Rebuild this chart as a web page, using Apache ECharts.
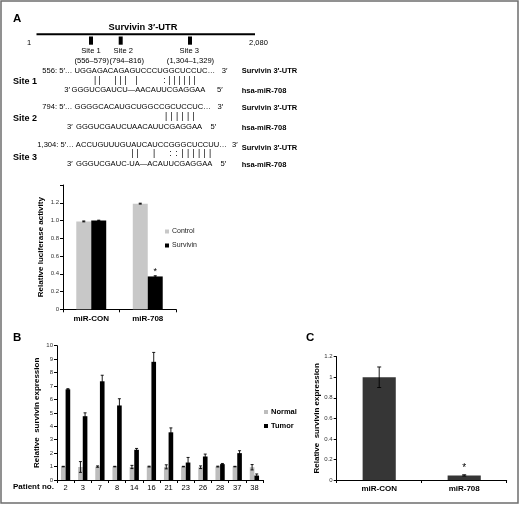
<!DOCTYPE html>
<html>
<head>
<meta charset="utf-8">
<script src="https://cdn.jsdelivr.net/npm/echarts@6/dist/echarts.min.js"></script>
<style>
html,body{margin:0;padding:0;background:#fff;}
#main{width:520px;height:506px;}
</style>
</head>
<body>
<div id="main"></div>
<script>
// ---------- data ----------
const utrLength = ['1', '2,080'];
const utrSites = ['Site 1', 'Site 2', 'Site 3'];
const utrRanges = ['(556–579)', '(794–816)', '(1,304–1,329)'];
const siteTop = ['556: 5′… UGGAGACAGAGUCCCUGGCUCCUC…', '794: 5′… GGGGCACAUGCUGGCCGCUCCUC…', '1,304: 5′… ACCUGUUUGUAUCAUCCGGGCUCCUU…'];
const siteBottom = ['GGGUCGAUCU—AACAUUCGAGGAA', 'GGGUCGAUCUAACAUUCGAGGAA', 'GGGUCGAUC-UA—ACAUUCGAGGAA'];
const sitePairs = ['||  |||  |  :||||||', '||||||', '||  |  ::||||||'];

const lucCategories = ['miR-CON', 'miR-708'];
const lucControl = [0.99, 1.19];
const lucControlErr = [0.005, 0.005];
const lucSurvivin = [1.0, 0.37];
const lucSurvivinErr = [0.004, 0.008];
const lucSig = ['', '*'];
const lucTicks = [0, 0.2, 0.4, 0.6, 0.8, 1.0, 1.2, 1.4];

const patients = ['2', '3', '7', '8', '14', '16', '21', '23', '26', '28', '37', '38'];
const normal = [1, 0.97, 1, 1, 0.97, 1, 0.98, 1, 0.95, 1, 1, 0.95];
const normalErr = [0.02, 0.4, 0.05, 0.02, 0.12, 0.03, 0.15, 0.02, 0.1, 0.03, 0.02, 0.2];
const tumor = [6.75, 4.75, 7.35, 5.55, 2.25, 8.8, 3.55, 1.3, 1.75, 1.18, 2.0, 0.33];
const tumorErr = [0.05, 0.25, 0.45, 0.5, 0.1, 0.7, 0.33, 0.38, 0.18, 0.05, 0.18, 0.12];

const cCategories = ['miR-CON', 'miR-708'];
const cValues = [1.0, 0.045];
const cErr = [0.1, 0.006];
const cSig = ['', '*'];

// ---------- layout / style ----------
const FONT = '"Liberation Sans", Arial, Helvetica, sans-serif';
const chart = echarts.init(document.getElementById('main'), null, {renderer: 'canvas'});

function txt(x, y, text, size, bold, align, extra) {
  return Object.assign({
    type: 'text', x: x, y: y, silent: true,
    style: {
      text: text,
      font: (bold ? 'bold ' : '') + size + 'px ' + FONT,
      fill: '#000',
      textAlign: align || 'left',
      textVerticalAlign: 'middle'
    }
  }, extra || {});
}

const graphics = [];
// frame
graphics.push({type: 'rect', shape: {x: 1, y: 1, width: 517, height: 502}, style: {fill: 'none', stroke: '#6e6e6e', lineWidth: 1.5}, silent: true});
// panel letters
graphics.push(txt(13, 19, 'A', 11.5, true));
graphics.push(txt(13, 338, 'B', 11.5, true));
graphics.push(txt(306, 338, 'C', 11.5, true));
// UTR schematic
graphics.push(txt(143, 27, 'Survivin 3′-UTR', 9.3, true, 'center'));
graphics.push({type: 'line', shape: {x1: 36.5, y1: 34.3, x2: 255, y2: 34.3}, style: {stroke: '#000', lineWidth: 2}, silent: true});
graphics.push(txt(29, 42.5, utrLength[0], 7.5, false, 'center'));
graphics.push(txt(258.5, 42.5, utrLength[1], 7.5, false, 'center'));
const siteMarkX = [91, 120.7, 190];
const siteLabelX = [91, 123.3, 189.3];
const siteRangeX = [91.7, 126.7, 190.5];
for (let i = 0; i < 3; i++) {
  graphics.push({type: 'rect', shape: {x: siteMarkX[i] - 2, y: 36.5, width: 4, height: 8.2}, style: {fill: '#000'}, silent: true});
  graphics.push(txt(siteLabelX[i], 50.7, utrSites[i], 7.6, false, 'center'));
  graphics.push(txt(siteRangeX[i], 60.7, utrRanges[i], 7.6, false, 'center'));
}
// sequence alignments
const rowTopY = [71, 107, 144.5];
const rowPairY = [80.5, 116.8, 153.8];
const rowBotY = [90, 126.5, 163.5];
const siteLblY = [81.5, 119, 157.5];
const utrLblY = [71, 107.5, 147.5];
const mirLblY = [91, 128, 165];
const topX = [42.3, 42.3, 37.3];
const top3X = [221.7, 217.5, 232];
const bot3X = [64.3, 67, 67];
const botSeqX = [71.5, 76, 76];
const bot5X = [217, 210.5, 220.5];
const pairX = [
  [95, 99.5, 115.5, 120.5, 125.5, 136.5, 164.5, 169.5, 174.5, 179.5, 184.5, 189.5, 194.5],
  [166, 171.5, 177, 182.5, 188, 193.5],
  [132.7, 137.5, 154, 170.5, 176.5, 182.5, 188, 193.5, 199, 204.5, 210]
];
const SEQ = 7.6;
for (let i = 0; i < 3; i++) {
  graphics.push(txt(13, siteLblY[i], utrSites[i], 9, true));
  graphics.push(txt(topX[i], rowTopY[i], siteTop[i], SEQ, false));
  graphics.push(txt(top3X[i], rowTopY[i], '3′', SEQ, false));
  graphics.push(txt(241.7, utrLblY[i], 'Survivin 3′-UTR', 7.5, true));
  const marks = sitePairs[i].replace(/ /g, '');
  for (let k = 0; k < marks.length; k++) {
    graphics.push(txt(pairX[i][k], rowPairY[i], marks[k], 8.5, false, 'center'));
  }
  graphics.push(txt(bot3X[i], rowBotY[i], '3′', SEQ, false));
  graphics.push(txt(botSeqX[i], rowBotY[i], siteBottom[i], SEQ, false));
  graphics.push(txt(bot5X[i], rowBotY[i], '5′', SEQ, false));
  graphics.push(txt(241.7, mirLblY[i], 'hsa-miR-708', 7.5, true));
}
graphics.push(txt(13, 487, 'Patient no.', 8, true));

// error bar renderer
function errRenderer(sign, pct, cap) {
  return function (params, api) {
    const x = api.value(0), v = api.value(1), e = api.value(2);
    const band = api.size([1, 0])[0];
    const dx = sign * band * pct / 2;
    const hi = api.coord([x, v + e]);
    const lo = api.coord([x, Math.max(0, v - e)]);
    const cx = hi[0] + dx;
    const st = {stroke: '#000', lineWidth: 0.9};
    return {
      type: 'group',
      children: [
        {type: 'line', shape: {x1: cx, y1: hi[1], x2: cx, y2: lo[1]}, style: st},
        {type: 'line', shape: {x1: cx - cap, y1: hi[1], x2: cx + cap, y2: hi[1]}, style: st},
        {type: 'line', shape: {x1: cx - cap, y1: lo[1], x2: cx + cap, y2: lo[1]}, style: st}
      ]
    };
  };
}
function errData(vals, errs) { return vals.map((v, i) => [i, v, errs[i]]); }
function sigData(vals, sig, size, dist) {
  return vals.map((v, i) => sig[i] ? {value: v, label: {show: true, position: 'top', distance: dist, formatter: sig[i], fontSize: size, color: '#000', fontFamily: FONT}} : v);
}

const axisLineBlack = {show: true, lineStyle: {color: '#000', width: 1}};
function yAxisCfg(idx, min, max, interval, fmt, name, nameGap) {
  return {
    type: 'value', gridIndex: idx, min: min, max: max, interval: interval,
    axisLine: axisLineBlack,
    axisTick: {show: true, length: 3, inside: false, lineStyle: {color: '#000', width: 1}},
    splitLine: {show: false},
    axisLabel: {fontSize: 6, color: '#333', fontFamily: FONT, margin: 4, formatter: fmt},
    name: name, nameLocation: 'middle', nameRotate: 90, nameGap: nameGap,
    nameTextStyle: {fontSize: 8, fontWeight: 'bold', color: '#000', fontFamily: FONT}
  };
}
function xAxisCfg(idx, data, size, bold, margin) {
  return {
    type: 'category', gridIndex: idx, data: data,
    axisLine: axisLineBlack,
    axisTick: {show: true, length: 3, alignWithLabel: false, lineStyle: {color: '#000', width: 1}},
    axisLabel: {fontSize: size, fontWeight: bold ? 'bold' : 'normal', color: '#000', fontFamily: FONT, margin: margin, interval: 0},
    splitLine: {show: false}
  };
}

const option = {
  animation: false,
  backgroundColor: '#fff',
  textStyle: {fontFamily: FONT},
  grid: [
    {left: 63, top: 185, width: 113, height: 124.3},
    {left: 57, top: 345.7, width: 206, height: 134.3},
    {left: 336.7, top: 356.7, width: 170, height: 123.3}
  ],
  xAxis: [
    xAxisCfg(0, lucCategories, 8, true, 5),
    xAxisCfg(1, patients, 7.5, false, 4),
    xAxisCfg(2, cCategories, 8, true, 5)
  ],
  yAxis: [
    yAxisCfg(0, 0, 1.4, 0.2, v => (Math.abs(v - 1.4) < 1e-6 ? '' : (v === 0 ? '0' : v.toFixed(1))), 'Relative luciferase activity', 18),
    yAxisCfg(1, 0, 10, 1, v => String(v), 'Relative  survivin expression', 16),
    yAxisCfg(2, 0, 1.2, 0.2, v => String(Math.round(v * 10) / 10), 'Relative  survivin expression', 13)
  ],
  legend: [
    {data: ['Control', 'Survivin'], orient: 'vertical', left: 165, top: 228, itemWidth: 4, itemHeight: 4, itemGap: 7, padding: 0,
      icon: 'rect', textStyle: {fontSize: 7, color: '#222', fontFamily: FONT, padding: [0, 0, 0, -2]}},
    {data: ['Normal', 'Tumor'], orient: 'vertical', left: 264, top: 408, itemWidth: 4, itemHeight: 4, itemGap: 6, padding: 0,
      icon: 'rect', textStyle: {fontSize: 7.5, fontWeight: 'bold', color: '#000', fontFamily: FONT, padding: [0, 0, 0, -2]}}
  ],
  series: [
    {name: 'Control', type: 'bar', xAxisIndex: 0, yAxisIndex: 0, data: lucControl, barWidth: '26.5%', barGap: '0%', itemStyle: {color: '#c8c8c8'}},
    {name: 'Survivin', type: 'bar', xAxisIndex: 0, yAxisIndex: 0, data: sigData(lucSurvivin, lucSig, 9, 0), barWidth: '26.5%', barGap: '0%', itemStyle: {color: '#000'}},
    {name: 'ctrlErr', type: 'custom', xAxisIndex: 0, yAxisIndex: 0, data: errData(lucControl, lucControlErr), encode: {x: 0, y: 1}, renderItem: errRenderer(-1, 0.265, 1.5), z: 5},
    {name: 'survErr', type: 'custom', xAxisIndex: 0, yAxisIndex: 0, data: errData(lucSurvivin, lucSurvivinErr), encode: {x: 0, y: 1}, renderItem: errRenderer(1, 0.265, 1.5), z: 5},

    {name: 'Normal', type: 'bar', xAxisIndex: 1, yAxisIndex: 1, data: normal, barWidth: '27%', barGap: '0%', itemStyle: {color: '#bdbdbd'}},
    {name: 'Tumor', type: 'bar', xAxisIndex: 1, yAxisIndex: 1, data: tumor, barWidth: '27%', barGap: '0%', itemStyle: {color: '#000'}},
    {name: 'normErr', type: 'custom', xAxisIndex: 1, yAxisIndex: 1, data: errData(normal, normalErr), encode: {x: 0, y: 1}, renderItem: errRenderer(-1, 0.27, 1.5), z: 5},
    {name: 'tumErr', type: 'custom', xAxisIndex: 1, yAxisIndex: 1, data: errData(tumor, tumorErr), encode: {x: 0, y: 1}, renderItem: errRenderer(1, 0.27, 1.5), z: 5},

    {name: 'Survivin expression', type: 'bar', xAxisIndex: 2, yAxisIndex: 2, data: sigData(cValues, cSig, 10, 2), barWidth: '39%', itemStyle: {color: '#363636'}},
    {name: 'cErr', type: 'custom', xAxisIndex: 2, yAxisIndex: 2, data: errData(cValues, cErr), encode: {x: 0, y: 1}, renderItem: errRenderer(0, 0, 2), z: 5}
  ],
  graphic: graphics
};
chart.setOption(option);
</script>
</body>
</html>
